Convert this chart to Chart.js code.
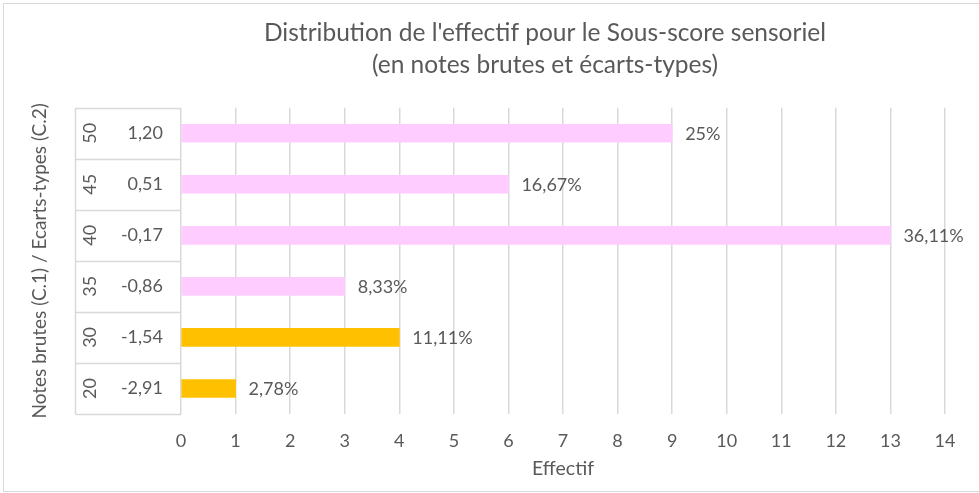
<!DOCTYPE html>
<html>
<head>
<meta charset="utf-8">
<script src="https://cdn.jsdelivr.net/npm/chart.js@4/dist/chart.umd.min.js"></script>
<style>
  html, body { margin: 0; padding: 0; background: #ffffff; }
  #wrap { width: 979px; height: 493px; position: relative; }
</style>
</head>
<body>
<div id="wrap"><canvas id="c" width="979" height="493"></canvas></div>
<script>
// ---- data ----
const outerLabels = ['20', '30', '35', '40', '45', '50'];            // Notes brutes (C.1)
const innerLabels = ['-2,91', '-1,54', '-0,86', '-0,17', '0,51', '1,20']; // Ecarts-types (C.2)
const effectif = [1, 4, 3, 13, 6, 9];
const percentLabels = ['2,78%', '11,11%', '8,33%', '36,11%', '16,67%', '25%'];
const xTicks = [0, 1, 2, 3, 4, 5, 6, 7, 8, 9, 10, 11, 12, 13, 14];
const titleLines = ["Distribution de l'effectif pour le Sous-score sensoriel", "(en notes brutes et écarts-types)"];

// ---- style ----
const GOLD = '#FFC000', PINK = '#FFCCFF';
const barColors = outerLabels.map(v => (Number(v) <= 30 ? GOLD : PINK));
const TEXT = '#595959', GRID = '#D9D9D9';
const FONT = 'Lato, Carlito, Calibri, sans-serif';
const TITLE_CENTER_X = 545;

const tablePlugin = {
  id: 'tablePlugin',
  afterLayout(chart) {
    const t = chart.titleBlock;
    if (t) {
      const shift = TITLE_CENTER_X - (t.left + t.right) / 2;
      t.left += shift;
      t.right += shift;
    }
  },
  beforeDraw(chart) {
    const ctx = chart.ctx;
    ctx.save();
    ctx.fillStyle = '#ffffff';
    ctx.fillRect(0, 0, chart.width, chart.height);
    ctx.strokeStyle = GRID;
    ctx.lineWidth = 1;
    ctx.strokeRect(3.5, 3.5, chart.width + 10, chart.height - 5);
    ctx.restore();
  },
  afterDraw(chart) {
    const ctx = chart.ctx;
    const y = chart.scales.y;
    const left = 75.5;
    const right = chart.chartArea.left;
    const n = innerLabels.length;
    const step = (y.bottom - y.top) / n;
    ctx.save();
    ctx.strokeStyle = GRID;
    ctx.lineWidth = 1.5;
    ctx.beginPath();
    for (let i = 0; i < n; i++) {
      const c = y.getPixelForValue(i);
      [c - step / 2, c + step / 2].forEach(py => {
        ctx.moveTo(left, Math.round(py) + 0.5);
        ctx.lineTo(right, Math.round(py) + 0.5);
      });
    }
    ctx.moveTo(left, y.top);
    ctx.lineTo(left, y.bottom);
    ctx.stroke();
    ctx.restore();
  },
  afterDatasetsDraw(chart) {
    const ctx = chart.ctx;
    const meta = chart.getDatasetMeta(0);
    ctx.save();
    ctx.fillStyle = TEXT;
    ctx.font = '18px ' + FONT;
    ctx.textAlign = 'left';
    ctx.textBaseline = 'middle';
    meta.data.forEach((bar, i) => {
      ctx.fillText(percentLabels[i], bar.x + 13, bar.y + 1);
    });
    ctx.restore();
  }
};

new Chart(document.getElementById('c'), {
  type: 'bar',
  data: {
    labels: innerLabels,
    datasets: [{
      data: effectif,
      backgroundColor: barColors,
      borderWidth: 0,
      barThickness: 18
    }]
  },
  plugins: [tablePlugin],
  options: {
    indexAxis: 'y',
    responsive: false,
    animation: false,
    devicePixelRatio: 1,
    layout: { padding: { left: 8, right: 34, top: 0, bottom: 0 } },
    plugins: {
      legend: { display: false },
      tooltip: { enabled: false },
      title: {
        display: true,
        text: titleLines,
        color: TEXT,
        font: { family: FONT, size: 24.5, weight: 'normal', lineHeight: 1.32 },
        padding: { top: 17, bottom: 26 }
      }
    },
    scales: {
      x: {
        type: 'linear',
        min: 0,
        max: 14,
        afterBuildTicks: s => { s.ticks = xTicks.map(v => ({ value: v })); },
        afterFit: s => { s.height = 79; },
        grid: { color: GRID, lineWidth: 1.5, drawTicks: false },
        border: { display: false },
        ticks: { color: TEXT, font: { family: FONT, size: 18 }, padding: 16 },
        title: {
          display: true,
          text: 'Effectif',
          color: TEXT,
          font: { family: FONT, size: 19.5 },
          padding: { top: 0, bottom: 13 }
        }
      },
      y: {
        type: 'category',
        labels: innerLabels,
        reverse: true,
        offset: true,
        weight: 0,
        afterFit: s => { s.width = 73; },
        grid: { display: false, drawTicks: false },
        border: { display: false },
        ticks: { color: TEXT, font: { family: FONT, size: 18 }, padding: 18 }
      },
      yOuter: {
        type: 'category',
        position: 'left',
        axis: 'y',
        labels: outerLabels,
        reverse: true,
        offset: true,
        weight: 1,
        afterFit: s => { s.width = 100; },
        grid: { display: false, drawTicks: false },
        border: { display: false },
        ticks: {
          color: TEXT,
          font: { family: FONT, size: 18 },
          minRotation: 90,
          maxRotation: 90,
          crossAlign: 'center',
          padding: 7
        },
        title: {
          display: true,
          text: 'Notes brutes (C.1) / Ecarts-types (C.2)',
          color: TEXT,
          font: { family: FONT, size: 19 },
          padding: { top: 20, bottom: 0 }
        }
      }
    }
  }
});
</script>
</body>
</html>
